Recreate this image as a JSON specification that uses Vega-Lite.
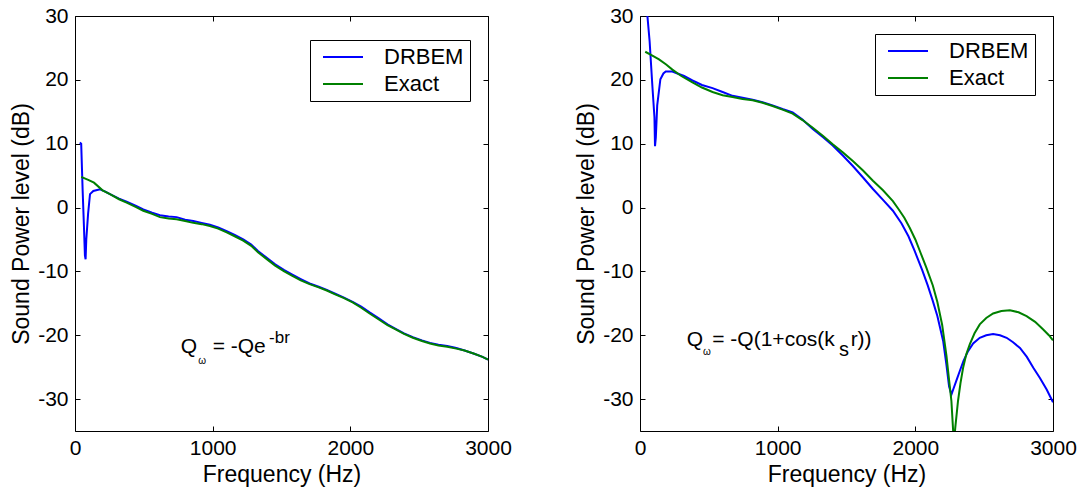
{
  "$schema": "https://vega.github.io/schema/vega-lite/v6.json",
  "background": "white",
  "padding": {"left": 10, "top": 4, "right": 5, "bottom": 5},
  "bounds": "flush",
  "spacing": 152,
  "config": {
    "font": "Liberation Sans",
    "view": {"stroke": "#000000", "strokeWidth": 1},
    "axis": {
      "domain": false, "grid": false, "tickSize": -5, "tickColor": "#000000", "tickWidth": 1,
      "labelColor": "#000000", "labelFontSize": 21, "labelFont": "Liberation Sans",
      "titleFontSize": 23, "titleFontWeight": "normal", "titleColor": "#000000", "titleFont": "Liberation Sans",
      "labelFlush": false, "labelOverlap": false
    },
    "legend": {
      "orient": "none", "symbolType": "stroke", "symbolStrokeWidth": 2, "symbolSize": 1600,
      "clipHeight": 22, "rowPadding": 5, "padding": 6, "symbolOffset": 6, "labelOffset": 20,
      "labelFontSize": 22, "labelColor": "#000000", "labelFont": "Liberation Sans",
      "strokeColor": "#000000", "fillColor": "#ffffff"
    }
  },
  "resolve": {"legend": {"color": "independent"}},
  "hconcat": [
    {
      "width": 413, "height": 415,
      "resolve": {"axis": {"x": "independent", "y": "independent"}},
      "layer": [
        {
          "data": {"values": [
            {"series":"DRBEM","f":35,"db":10.2},{"series":"DRBEM","f":45,"db":10.0},{"series":"DRBEM","f":55,"db":3},{"series":"DRBEM","f":65,"db":-3},{"series":"DRBEM","f":72,"db":-7.5},{"series":"DRBEM","f":77,"db":-8.1},{"series":"DRBEM","f":82,"db":-5},{"series":"DRBEM","f":95,"db":-1},{"series":"DRBEM","f":109,"db":2.1},{"series":"DRBEM","f":133,"db":2.6},{"series":"DRBEM","f":182,"db":2.85},{"series":"DRBEM","f":220,"db":2.5},{"series":"DRBEM","f":254,"db":2.1},{"series":"DRBEM","f":320,"db":1.4},{"series":"DRBEM","f":375,"db":0.9},{"series":"DRBEM","f":440,"db":0.3},{"series":"DRBEM","f":496,"db":-0.3},{"series":"DRBEM","f":560,"db":-0.8},{"series":"DRBEM","f":617,"db":-1.2},{"series":"DRBEM","f":680,"db":-1.4},{"series":"DRBEM","f":738,"db":-1.5},{"series":"DRBEM","f":800,"db":-1.9},{"series":"DRBEM","f":859,"db":-2.1},{"series":"DRBEM","f":920,"db":-2.4},{"series":"DRBEM","f":980,"db":-2.7},{"series":"DRBEM","f":1040,"db":-3.1},{"series":"DRBEM","f":1102,"db":-3.7},{"series":"DRBEM","f":1160,"db":-4.3},{"series":"DRBEM","f":1222,"db":-5.0},{"series":"DRBEM","f":1280,"db":-5.8},{"series":"DRBEM","f":1329,"db":-6.8},{"series":"DRBEM","f":1400,"db":-8.0},{"series":"DRBEM","f":1454,"db":-8.9},{"series":"DRBEM","f":1520,"db":-9.8},{"series":"DRBEM","f":1579,"db":-10.5},{"series":"DRBEM","f":1640,"db":-11.2},{"series":"DRBEM","f":1704,"db":-11.9},{"series":"DRBEM","f":1770,"db":-12.4},{"series":"DRBEM","f":1829,"db":-12.9},{"series":"DRBEM","f":1890,"db":-13.5},{"series":"DRBEM","f":1954,"db":-14.1},{"series":"DRBEM","f":2020,"db":-14.8},{"series":"DRBEM","f":2079,"db":-15.5},{"series":"DRBEM","f":2140,"db":-16.4},{"series":"DRBEM","f":2204,"db":-17.3},{"series":"DRBEM","f":2270,"db":-18.3},{"series":"DRBEM","f":2329,"db":-19.0},{"series":"DRBEM","f":2390,"db":-19.7},{"series":"DRBEM","f":2454,"db":-20.3},{"series":"DRBEM","f":2520,"db":-20.8},{"series":"DRBEM","f":2579,"db":-21.2},{"series":"DRBEM","f":2640,"db":-21.5},{"series":"DRBEM","f":2704,"db":-21.7},{"series":"DRBEM","f":2770,"db":-22.0},{"series":"DRBEM","f":2830,"db":-22.4},{"series":"DRBEM","f":2900,"db":-22.9},{"series":"DRBEM","f":2960,"db":-23.4},{"series":"DRBEM","f":3000,"db":-23.8},
            {"series":"Exact","f":45,"db":4.8},{"series":"Exact","f":100,"db":4.3},{"series":"Exact","f":138,"db":3.9},{"series":"Exact","f":200,"db":2.7},{"series":"Exact","f":254,"db":2.1},{"series":"Exact","f":320,"db":1.3},{"series":"Exact","f":375,"db":0.76},{"series":"Exact","f":440,"db":0.1},{"series":"Exact","f":496,"db":-0.5},{"series":"Exact","f":560,"db":-1.0},{"series":"Exact","f":617,"db":-1.5},{"series":"Exact","f":680,"db":-1.7},{"series":"Exact","f":738,"db":-1.85},{"series":"Exact","f":800,"db":-2.1},{"series":"Exact","f":859,"db":-2.4},{"series":"Exact","f":920,"db":-2.6},{"series":"Exact","f":980,"db":-2.9},{"series":"Exact","f":1040,"db":-3.3},{"series":"Exact","f":1102,"db":-3.9},{"series":"Exact","f":1160,"db":-4.5},{"series":"Exact","f":1222,"db":-5.2},{"series":"Exact","f":1280,"db":-6.0},{"series":"Exact","f":1329,"db":-7.0},{"series":"Exact","f":1400,"db":-8.2},{"series":"Exact","f":1454,"db":-9.1},{"series":"Exact","f":1520,"db":-10.0},{"series":"Exact","f":1579,"db":-10.7},{"series":"Exact","f":1640,"db":-11.4},{"series":"Exact","f":1704,"db":-12.0},{"series":"Exact","f":1770,"db":-12.5},{"series":"Exact","f":1829,"db":-13.0},{"series":"Exact","f":1890,"db":-13.6},{"series":"Exact","f":1954,"db":-14.2},{"series":"Exact","f":2020,"db":-14.9},{"series":"Exact","f":2079,"db":-15.7},{"series":"Exact","f":2140,"db":-16.6},{"series":"Exact","f":2204,"db":-17.5},{"series":"Exact","f":2270,"db":-18.4},{"series":"Exact","f":2329,"db":-19.1},{"series":"Exact","f":2390,"db":-19.8},{"series":"Exact","f":2454,"db":-20.4},{"series":"Exact","f":2520,"db":-20.9},{"series":"Exact","f":2579,"db":-21.3},{"series":"Exact","f":2640,"db":-21.6},{"series":"Exact","f":2704,"db":-21.8},{"series":"Exact","f":2770,"db":-22.1},{"series":"Exact","f":2830,"db":-22.4},{"series":"Exact","f":2900,"db":-22.9},{"series":"Exact","f":2960,"db":-23.4},{"series":"Exact","f":3000,"db":-23.8}
          ]},
          "mark": {"type": "line", "clip": true, "strokeWidth": 2},
          "encoding": {
            "x": {"field": "f", "type": "quantitative", "scale": {"domain": [0, 3000], "nice": false},
                  "axis": {"orient": "bottom", "values": [0, 1000, 2000, 3000], "title": "Frequency (Hz)", "labelPadding": 11, "titlePadding": 5, "labelExpr": "'' + datum.value"}},
            "y": {"field": "db", "type": "quantitative", "scale": {"domain": [-35, 30], "nice": false, "zero": false},
                  "axis": {"orient": "left", "values": [-30, -20, -10, 0, 10, 20, 30], "title": "Sound Power level (dB)", "labelPadding": 12, "titlePadding": 4, "labelExpr": "'' + datum.value"}},
            "color": {"field": "series", "type": "nominal", "scale": {"domain": ["DRBEM", "Exact"], "range": ["#0000ff", "#008000"]},
                      "legend": {"title": null, "legendX": 235, "legendY": 24}}
          }
        },
        {
          "data": {"values": [{"f": 768, "db": -21.9, "t": "Q"}, {"f": 1000, "db": -21.9, "t": "= -Qe"}]},
          "mark": {"type": "text", "align": "left", "baseline": "middle", "fontSize": 21, "color": "#000000"},
          "encoding": {
            "x": {"field": "f", "type": "quantitative", "scale": {"domain": [0, 3000], "nice": false},
                  "axis": {"orient": "top", "values": [0, 1000, 2000, 3000], "labels": false, "title": null}},
            "y": {"field": "db", "type": "quantitative", "scale": {"domain": [-35, 30], "nice": false, "zero": false},
                  "axis": {"orient": "right", "values": [-30, -20, -10, 0, 10, 20, 30], "labels": false, "title": null}},
            "text": {"field": "t"}
          }
        },
        {
          "data": {"values": [{"f": 895, "db": -24.0, "t": "ω"}]},
          "mark": {"type": "text", "align": "left", "baseline": "middle", "fontSize": 10, "color": "#000000"},
          "encoding": {
            "x": {"field": "f", "type": "quantitative", "axis": null},
            "y": {"field": "db", "type": "quantitative", "axis": null},
            "text": {"field": "t"}
          }
        },
        {
          "data": {"values": [{"f": 1410, "db": -20.5, "t": "-br"}]},
          "mark": {"type": "text", "align": "left", "baseline": "middle", "fontSize": 17, "color": "#000000"},
          "encoding": {
            "x": {"field": "f", "type": "quantitative", "axis": null},
            "y": {"field": "db", "type": "quantitative", "axis": null},
            "text": {"field": "t"}
          }
        }
      ]
    },
    {
      "width": 413, "height": 415,
      "resolve": {"axis": {"x": "independent", "y": "independent"}},
      "layer": [
        {
          "data": {"values": [
            {"series":"DRBEM","f":40,"db":34},{"series":"DRBEM","f":53,"db":30.2},{"series":"DRBEM","f":70,"db":26},{"series":"DRBEM","f":90,"db":19},{"series":"DRBEM","f":105,"db":14.1},{"series":"DRBEM","f":109,"db":9.6},{"series":"DRBEM","f":115,"db":11},{"series":"DRBEM","f":125,"db":16},{"series":"DRBEM","f":148,"db":20.1},{"series":"DRBEM","f":170,"db":21.0},{"series":"DRBEM","f":187,"db":21.3},{"series":"DRBEM","f":235,"db":21.3},{"series":"DRBEM","f":272,"db":21.0},{"series":"DRBEM","f":320,"db":20.6},{"series":"DRBEM","f":381,"db":19.9},{"series":"DRBEM","f":450,"db":19.2},{"series":"DRBEM","f":527,"db":18.7},{"series":"DRBEM","f":600,"db":18.1},{"series":"DRBEM","f":672,"db":17.5},{"series":"DRBEM","f":745,"db":17.2},{"series":"DRBEM","f":818,"db":16.9},{"series":"DRBEM","f":890,"db":16.5},{"series":"DRBEM","f":963,"db":16.0},{"series":"DRBEM","f":1040,"db":15.4},{"series":"DRBEM","f":1109,"db":14.9},{"series":"DRBEM","f":1180,"db":13.8},{"series":"DRBEM","f":1255,"db":12.3},{"series":"DRBEM","f":1330,"db":11.0},{"series":"DRBEM","f":1400,"db":9.7},{"series":"DRBEM","f":1475,"db":8.1},{"series":"DRBEM","f":1546,"db":6.5},{"series":"DRBEM","f":1620,"db":4.7},{"series":"DRBEM","f":1692,"db":2.9},{"series":"DRBEM","f":1765,"db":1.2},{"series":"DRBEM","f":1837,"db":-0.5},{"series":"DRBEM","f":1900,"db":-2.5},{"series":"DRBEM","f":1950,"db":-4.5},{"series":"DRBEM","f":1995,"db":-6.8},{"series":"DRBEM","f":2050,"db":-9.8},{"series":"DRBEM","f":2090,"db":-12.2},{"series":"DRBEM","f":2125,"db":-14.5},{"series":"DRBEM","f":2160,"db":-17.0},{"series":"DRBEM","f":2202,"db":-20.9},{"series":"DRBEM","f":2225,"db":-24.5},{"series":"DRBEM","f":2245,"db":-28.0},{"series":"DRBEM","f":2262,"db":-29.3},{"series":"DRBEM","f":2275,"db":-28.5},{"series":"DRBEM","f":2300,"db":-27.0},{"series":"DRBEM","f":2323,"db":-25.6},{"series":"DRBEM","f":2350,"db":-24.0},{"series":"DRBEM","f":2383,"db":-22.5},{"series":"DRBEM","f":2420,"db":-21.3},{"series":"DRBEM","f":2468,"db":-20.4},{"series":"DRBEM","f":2515,"db":-20.0},{"series":"DRBEM","f":2565,"db":-19.8},{"series":"DRBEM","f":2615,"db":-20.0},{"series":"DRBEM","f":2663,"db":-20.4},{"series":"DRBEM","f":2710,"db":-21.1},{"series":"DRBEM","f":2760,"db":-22.0},{"series":"DRBEM","f":2810,"db":-23.4},{"series":"DRBEM","f":2857,"db":-25.1},{"series":"DRBEM","f":2905,"db":-26.7},{"series":"DRBEM","f":2954,"db":-28.5},{"series":"DRBEM","f":3000,"db":-30.5},
            {"series":"Exact","f":38,"db":24.4},{"series":"Exact","f":90,"db":23.8},{"series":"Exact","f":138,"db":23.2},{"series":"Exact","f":190,"db":22.4},{"series":"Exact","f":235,"db":21.6},{"series":"Exact","f":300,"db":20.6},{"series":"Exact","f":381,"db":19.6},{"series":"Exact","f":450,"db":18.8},{"series":"Exact","f":527,"db":18.1},{"series":"Exact","f":600,"db":17.6},{"series":"Exact","f":672,"db":17.3},{"series":"Exact","f":745,"db":17.0},{"series":"Exact","f":818,"db":16.8},{"series":"Exact","f":890,"db":16.4},{"series":"Exact","f":963,"db":15.9},{"series":"Exact","f":1040,"db":15.3},{"series":"Exact","f":1109,"db":14.7},{"series":"Exact","f":1180,"db":13.7},{"series":"Exact","f":1255,"db":12.5},{"series":"Exact","f":1330,"db":11.2},{"series":"Exact","f":1400,"db":9.9},{"series":"Exact","f":1475,"db":8.6},{"series":"Exact","f":1546,"db":7.3},{"series":"Exact","f":1620,"db":5.8},{"series":"Exact","f":1692,"db":4.2},{"series":"Exact","f":1765,"db":2.7},{"series":"Exact","f":1837,"db":1.0},{"series":"Exact","f":1880,"db":-0.3},{"series":"Exact","f":1920,"db":-1.6},{"series":"Exact","f":1960,"db":-3.2},{"series":"Exact","f":2000,"db":-5.0},{"series":"Exact","f":2040,"db":-7.2},{"series":"Exact","f":2080,"db":-9.4},{"series":"Exact","f":2127,"db":-12.2},{"series":"Exact","f":2160,"db":-14.8},{"series":"Exact","f":2195,"db":-18.4},{"series":"Exact","f":2226,"db":-23.2},{"series":"Exact","f":2245,"db":-27.0},{"series":"Exact","f":2262,"db":-30.3},{"series":"Exact","f":2272,"db":-34},{"series":"Exact","f":2280,"db":-37},{"series":"Exact","f":2290,"db":-34.5},{"series":"Exact","f":2310,"db":-30.3},{"series":"Exact","f":2328,"db":-27.5},{"series":"Exact","f":2347,"db":-25.1},{"series":"Exact","f":2370,"db":-23.0},{"series":"Exact","f":2396,"db":-21.4},{"series":"Exact","f":2430,"db":-19.7},{"series":"Exact","f":2468,"db":-18.3},{"series":"Exact","f":2515,"db":-17.3},{"series":"Exact","f":2565,"db":-16.6},{"series":"Exact","f":2625,"db":-16.2},{"series":"Exact","f":2687,"db":-16.1},{"series":"Exact","f":2750,"db":-16.4},{"series":"Exact","f":2808,"db":-17.0},{"series":"Exact","f":2870,"db":-17.9},{"series":"Exact","f":2929,"db":-19.1},{"series":"Exact","f":2970,"db":-20.0},{"series":"Exact","f":3000,"db":-20.8}
          ]},
          "mark": {"type": "line", "clip": true, "strokeWidth": 2},
          "encoding": {
            "x": {"field": "f", "type": "quantitative", "scale": {"domain": [0, 3000], "nice": false},
                  "axis": {"orient": "bottom", "values": [0, 1000, 2000, 3000], "title": "Frequency (Hz)", "labelPadding": 11, "titlePadding": 5, "labelExpr": "'' + datum.value"}},
            "y": {"field": "db", "type": "quantitative", "scale": {"domain": [-35, 30], "nice": false, "zero": false},
                  "axis": {"orient": "left", "values": [-30, -20, -10, 0, 10, 20, 30], "title": "Sound Power level (dB)", "labelPadding": 12, "titlePadding": 4, "labelExpr": "'' + datum.value"}},
            "color": {"field": "series", "type": "nominal", "scale": {"domain": ["DRBEM", "Exact"], "range": ["#0000ff", "#008000"]},
                      "legend": {"title": null, "legendX": 235, "legendY": 18}}
          }
        },
        {
          "data": {"values": [{"f": 339, "db": -20.7, "t": "Q"}, {"f": 525, "db": -20.7, "t": "= -Q(1+cos(k"}, {"f": 1530, "db": -20.7, "t": "r))"}]},
          "mark": {"type": "text", "align": "left", "baseline": "middle", "fontSize": 21, "color": "#000000"},
          "encoding": {
            "x": {"field": "f", "type": "quantitative", "scale": {"domain": [0, 3000], "nice": false},
                  "axis": {"orient": "top", "values": [0, 1000, 2000, 3000], "labels": false, "title": null}},
            "y": {"field": "db", "type": "quantitative", "scale": {"domain": [-35, 30], "nice": false, "zero": false},
                  "axis": {"orient": "right", "values": [-30, -20, -10, 0, 10, 20, 30], "labels": false, "title": null}},
            "text": {"field": "t"}
          }
        },
        {
          "data": {"values": [{"f": 458, "db": -22.6, "t": "ω"}]},
          "mark": {"type": "text", "align": "left", "baseline": "middle", "fontSize": 10, "color": "#000000"},
          "encoding": {
            "x": {"field": "f", "type": "quantitative", "axis": null},
            "y": {"field": "db", "type": "quantitative", "axis": null},
            "text": {"field": "t"}
          }
        },
        {
          "data": {"values": [{"f": 1445, "db": -22.3, "t": "s"}]},
          "mark": {"type": "text", "align": "left", "baseline": "middle", "fontSize": 20, "color": "#000000"},
          "encoding": {
            "x": {"field": "f", "type": "quantitative", "axis": null},
            "y": {"field": "db", "type": "quantitative", "axis": null},
            "text": {"field": "t"}
          }
        }
      ]
    }
  ]
}
